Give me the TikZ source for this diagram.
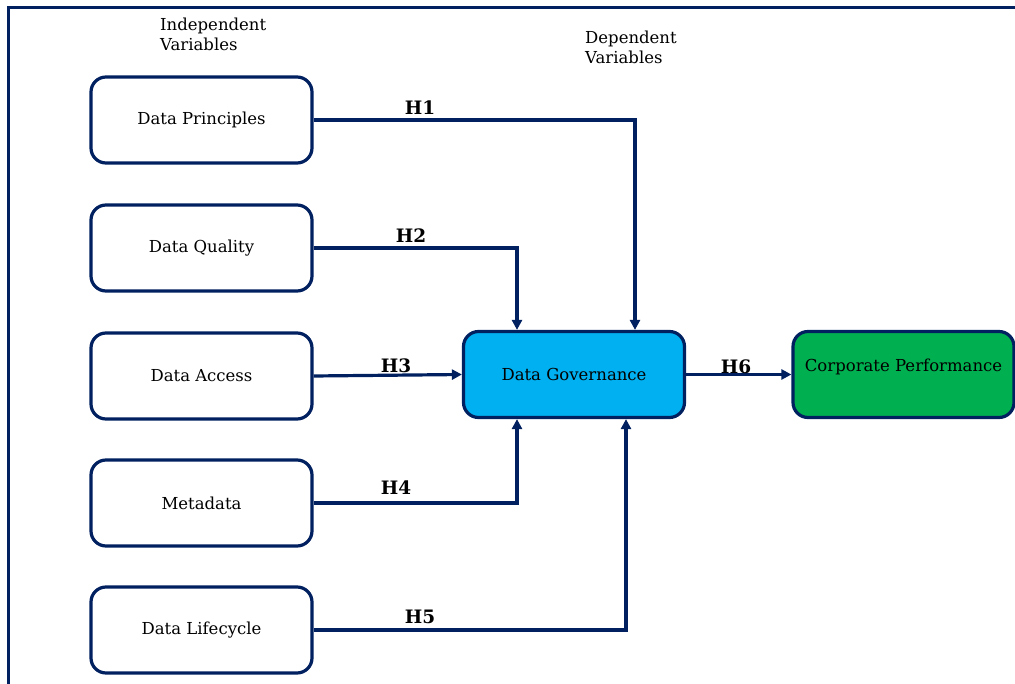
\documentclass[tikz,border=0pt]{standalone}
\usepackage{fontspec}
\setmainfont{DejaVu Serif}
\usetikzlibrary{arrows.meta}
\definecolor{navy}{RGB}{0,32,96}
\definecolor{govblue}{RGB}{0,176,240}
\definecolor{perfgreen}{RGB}{0,176,80}
\tikzset{
  varbox/.style={draw=navy, line width=3.2pt, rounded corners=15pt, fill=white,
    minimum width=221pt, minimum height=86pt, inner sep=0pt,
    font=\fontsize{16.5}{19}\selectfont},
  link/.style={draw=navy, line width=3.2pt, -{Triangle[length=10pt,width=10pt]}},
  hyp/.style={font=\fontsize{18.5}{20}\selectfont\bfseries, inner sep=0pt},
  heading/.style={font=\fontsize{16.5}{20}\selectfont, align=left, anchor=north west, inner sep=0pt}
}
\begin{document}
\begin{tikzpicture}[x=1pt,y=-1pt]
\useasboundingbox (0,0) rectangle (1015,684);
% outer frame (top and left edges)
\draw[navy, line width=3pt] (8,684) -- (8,8) -- (1015,8);

% headings
\node[heading] (indep) at (160,18) {Independent\\Variables};
\node[heading] (dep) at (585,31) {Dependent\\Variables};

% independent variables
\node[varbox] (dp) at (201.5,120) {Data Principles};
\node[varbox] (dq) at (201.5,248) {Data Quality};
\node[varbox] (da) at (201.5,376) {Data Access};
\node[varbox] (md) at (201.5,503) {Metadata};
\node[varbox] (dl) at (201.5,630) {Data Lifecycle};

% mediator and outcome
\node[varbox, fill=govblue] (dg) at (574,374.5) {Data Governance};
\node[varbox, fill=perfgreen, text depth=19pt] (cp) at (903.5,374.5) {Corporate Performance};

% hypothesis paths
\draw[link] (dp.east) -| (dg.north -| 635,0);
\draw[link] (dq.east) -| (dg.north -| 517,0);
\draw[link] (da.east) -- (dg.west);
\draw[link] (md.east) -| (dg.south -| 517,0);
\draw[link] (dl.east) -| (dg.south -| 626,0);
\draw[link] (dg.east) -- (cp.west);

% hypothesis labels
\node[hyp] (h1) at (420,108) {H1};
\node[hyp] (h2) at (411,236) {H2};
\node[hyp] (h3) at (396,366) {H3};
\node[hyp] (h4) at (396,488) {H4};
\node[hyp] (h5) at (420,617) {H5};
\node[hyp] (h6) at (736,367) {H6};
\end{tikzpicture}
\end{document}
